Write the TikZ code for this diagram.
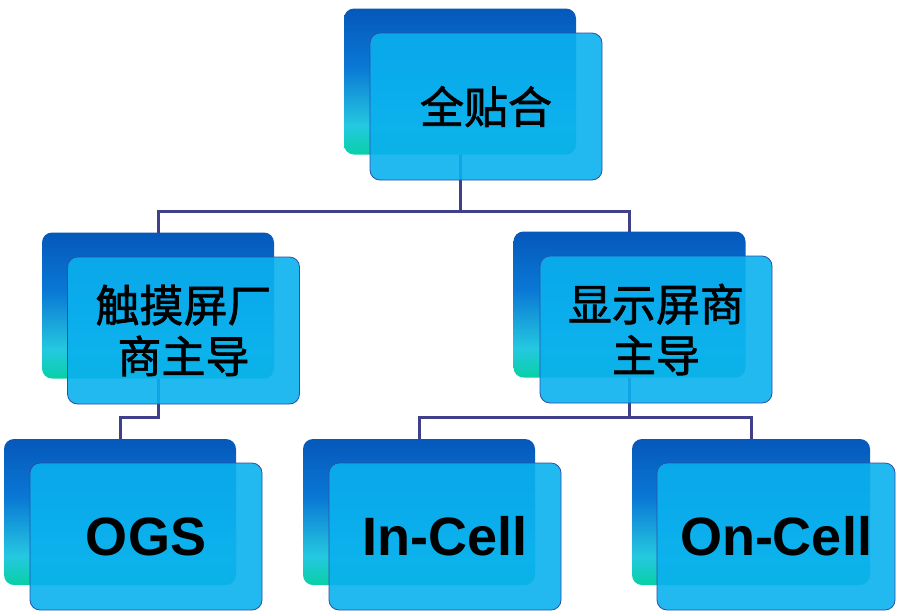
\documentclass[tikz,border=0pt]{standalone}
\usepackage{fontspec}
\newfontfamily\cjk[FakeBold=1.6]{Noto Sans CJK SC}
\newfontfamily\latinb{Liberation Sans}
\definecolor{bdark}{HTML}{0558BA}
\definecolor{bmid}{HTML}{0A78D5}
\definecolor{bcyan}{HTML}{25C8E0}
\definecolor{bteal}{HTML}{08D0A6}
\definecolor{ffill}{HTML}{0AB0EE}
\definecolor{fborder}{HTML}{2A4FA8}
\definecolor{linkc}{HTML}{40408A}
\pgfdeclareverticalshading{backshade}{100bp}{color(0bp)=(bteal); color(25bp)=(bteal); color(35bp)=(bcyan); color(55bp)=(bmid); color(75bp)=(bdark); color(100bp)=(bdark)}
\tikzset{
  backbox/.style={rectangle, rounded corners=10pt, shading=backshade, inner sep=0pt, outer sep=0pt, minimum width=232pt, minimum height=146pt},
  frontbox/.style={rectangle, rounded corners=10pt, fill=ffill, fill opacity=0.9, text opacity=1, draw=fborder, line width=0.8pt, inner sep=0pt, outer sep=0pt, minimum width=232pt, minimum height=147pt, align=center, text=black},
  cjktext/.style={font=\cjk\fontsize{44}{51}\selectfont},
  entext/.style={font=\latinb\bfseries\fontsize{54}{60}\selectfont},
  link/.style={draw=linkc, line width=3pt}
}
\begin{document}
\begin{tikzpicture}[x=1pt,y=-1pt]
\useasboundingbox (0,0) rectangle (900,614);
% back boxes
\node[backbox] (topB) at (460,81.5) {};
\node[backbox] (touchB) at (158,305.5) {};
\node[backbox] (dispB) at (629.5,304.5) {};
\node[backbox] (ogsB) at (120,512) {};
\node[backbox] (inB) at (419,512) {};
\node[backbox, minimum width=238pt] (onB) at (751,512) {};
% connectors
\draw[link] (topB.south) -- (topB.south |- 0,211) -| (touchB.north);
\draw[link] (topB.south) -- (topB.south |- 0,211) -| (dispB.north);
\draw[link] (touchB.south) -- (touchB.south |- 0,417) -| (ogsB.north);
\draw[link] (dispB.south) -- (dispB.south |- 0,417) -| (inB.north);
\draw[link] (dispB.south) -- (dispB.south |- 0,417) -| (onB.north);
% front boxes
\node[frontbox, cjktext] (topF) at (486,106.5) {全贴合};
\node[frontbox, cjktext] (touchF) at (183.5,330.5) {触摸屏厂\\商主导};
\node[frontbox, cjktext] (dispF) at (656,329.5) {显示屏商\\主导};
\node[frontbox, entext] (ogsF) at (146,536.5) {OGS};
\node[frontbox, entext] (inF) at (445,536.5) {In-Cell};
\node[frontbox, entext, minimum width=238pt] (onF) at (776,536.5) {On-Cell};
\end{tikzpicture}
\end{document}
